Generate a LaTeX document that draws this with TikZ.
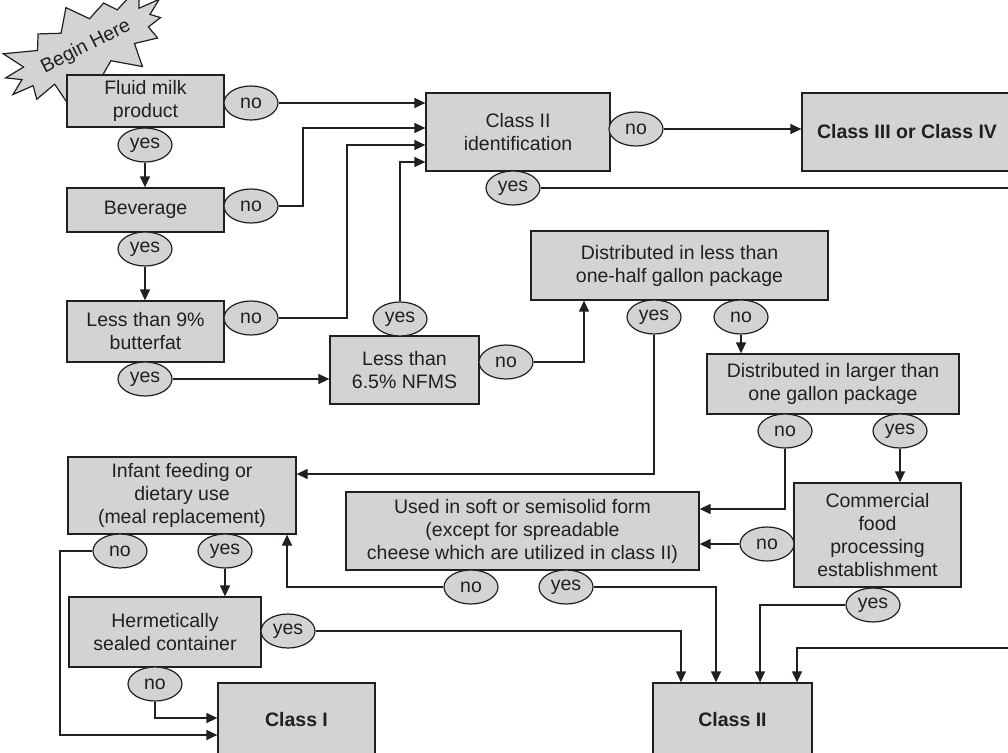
\documentclass[tikz,border=0pt]{standalone}
\usepackage{fontspec}
\setmainfont{Liberation Sans}
\usetikzlibrary{arrows.meta,shapes.symbols,shapes.geometric}
\definecolor{boxgray}{RGB}{211,211,212}
\definecolor{ink}{RGB}{35,31,32}
\begin{document}
\begin{tikzpicture}[x=1pt,y=-1pt,
    txt/.style={font=\fontsize{19.5}{23}\selectfont, text=ink},
    box/.style={txt, draw=ink, line width=1.3pt, fill=boxgray, align=center, inner sep=0pt},
    lab/.style={txt, ellipse, draw=ink, line width=1.2pt, fill=boxgray, minimum width=54, minimum height=34, inner sep=0pt},
    arr/.style={draw=ink, line width=1.3pt, -{Triangle[length=11pt,width=10pt]}},
    ln/.style={draw=ink, line width=1.3pt}]
    \useasboundingbox (0,0) rectangle (1008,752);
    \clip (0,0) rectangle (1008,752);
    % start
    \node[txt, starburst, draw=ink, line width=1.2pt, fill=boxgray, rotate=27,
        starburst points=14, starburst point height=28pt,
        inner xsep=2pt, inner ysep=8pt] (start) at (86,47) {Begin Here};
    % left column
    \node[box, minimum width=157, minimum height=52] (fluid) at (145.5,101) {Fluid milk\\product};
    \node[lab] (fluidno) at (251,103) {no};
    \node[lab] (fluidyes) at (145,145) {yes};
    \node[box, minimum width=157, minimum height=44] (bev) at (145.5,210) {Beverage};
    \node[lab] (bevno) at (251,206) {no};
    \node[lab] (bevyes) at (145,249) {yes};
    \node[box, minimum width=157, minimum height=61] (fat) at (145.5,331.5) {Less than 9\%\\butterfat};
    \node[lab] (fatno) at (251,318) {no};
    \node[lab] (fatyes) at (145,379) {yes};
    \node[box, minimum width=149, minimum height=68] (nfms) at (404.5,370) {Less than\\6.5\% NFMS};
    \node[lab] (nfmsyes) at (400,319) {yes};
    \node[lab] (nfmsno) at (506,362) {no};
    % class II identification
    \node[box, minimum width=184, minimum height=78] (ident) at (518,132) {Class II\\identification};
    \node[lab] (identno) at (636,129) {no};
    \node[lab] (identyes) at (513,188) {yes};
    \node[box, minimum width=210, minimum height=78, font=\fontsize{19.5}{23}\selectfont\bfseries] (cl34) at (907,132) {Class III or Class IV};
    % packages
    \node[box, minimum width=297, minimum height=69] (half) at (679.5,265.5) {Distributed in less than\\one-half gallon package};
    \node[lab] (halfyes) at (654,317) {yes};
    \node[lab] (halfno) at (741,317) {no};
    \node[box, minimum width=252, minimum height=60] (gal) at (833,384) {Distributed in larger than\\one gallon package};
    \node[lab] (galno) at (785,431) {no};
    \node[lab] (galyes) at (900,431) {yes};
    \node[box, minimum width=167, minimum height=104] (comm) at (877.5,535) {Commercial\\food\\processing\\establishment};
    \node[lab] (commno) at (767,544) {no};
    \node[lab] (commyes) at (873,605) {yes};
    % bottom
    \node[box, minimum width=228, minimum height=77] (infant) at (182,495.5) {Infant feeding or\\dietary use\\(meal replacement)};
    \node[lab] (infantno) at (120,551) {no};
    \node[lab] (infantyes) at (225,551) {yes};
    \node[box, minimum width=192, minimum height=70] (herm) at (165,632) {Hermetically\\sealed container};
    \node[lab] (hermyes) at (288,631) {yes};
    \node[lab] (hermno) at (155,684) {no};
    \node[box, minimum width=353, minimum height=78] (soft) at (522.5,531) {Used in soft or semisolid form\\(except for spreadable\\cheese which are utilized in class II)};
    \node[lab] (softno) at (471,587) {no};
    \node[lab] (softyes) at (566,587) {yes};
    \node[box, minimum width=157, minimum height=74, font=\fontsize{19.5}{23}\selectfont\bfseries] (cI) at (296.5,720) {Class I};
    \node[box, minimum width=159, minimum height=74, font=\fontsize{19.5}{23}\selectfont\bfseries] (cII) at (732.5,720) {Class II};
    % into class II identification
    \draw[arr] (fluidno.east) -- (fluidno.east -| ident.west);
    \draw[arr] (bevno.east) -| (303,128) -- (ident.west |- 0,128);
    \draw[arr] (fatno.east) -| (347,145) -- (ident.west |- 0,145);
    \draw[arr] (nfmsyes.north) |- (ident.west |- 0,162);
    \draw[arr] (identno.east) -- (identno.east -| cl34.west);
    \draw[arr] (identyes.east) -| (1020,648) -| ([xshift=64.5]cII.north);
    % yes chain
    \draw[arr] (fluidyes.south) -- (fluidyes.south |- bev.north);
    \draw[arr] (bevyes.south) -- (bevyes.south |- fat.north);
    \draw[arr] (fatyes.east) -- (fatyes.east -| nfms.west);
    \draw[arr] (nfmsno.east) -| ([xshift=-95.5]half.south);
    \draw[arr] (halfno.south) -- (halfno.south |- gal.north);
    \draw[arr] (halfyes.south) |- (infant.east |- 0,474);
    \draw[arr] (galno.south) |- (soft.east |- 0,509);
    \draw[arr] (galyes.south) -- (galyes.south |- comm.north);
    \draw[arr] (commno.west) -- (commno.west -| soft.east);
    \draw[arr] (commyes.west) -| ([xshift=27.5]cII.north);
    % infant branch
    \draw[arr] (infantno.west) -| (60,735) -- (cI.west |- 0,735);
    \draw[arr] (infantyes.south) -- (infantyes.south |- herm.north);
    \draw[arr] (hermno.south) |- (cI.west |- 0,718);
    \draw[arr] (hermyes.east) -| ([xshift=-51.5]cII.north);
    \draw[arr] (softno.west) -| ([xshift=105]infant.south);
    \draw[arr] (softyes.east) -| ([xshift=-16.5]cII.north);
\end{tikzpicture}
\end{document}
